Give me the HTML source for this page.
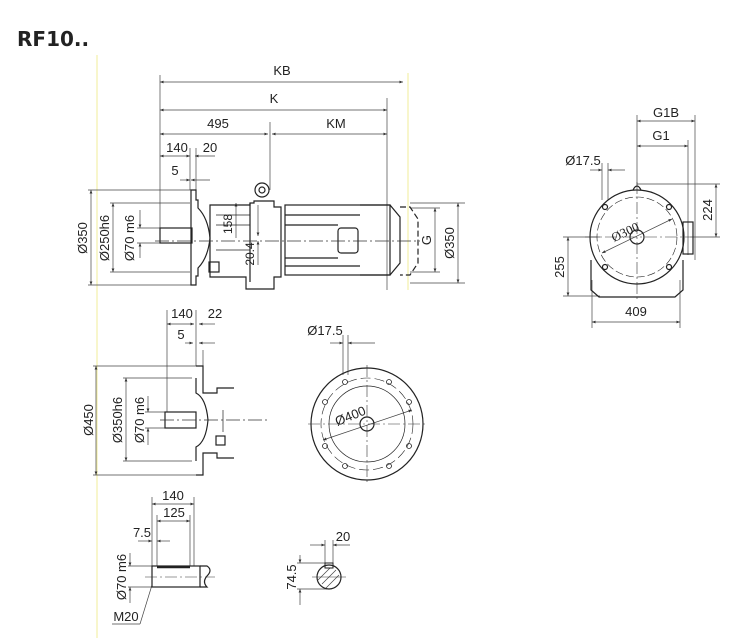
<!DOCTYPE html>
<html><head><meta charset="utf-8"><style>
body{margin:0;background:#fff}
svg{display:block}
text{font-family:"Liberation Sans",sans-serif;fill:#222}
</style></head><body>
<svg width="750" height="638" viewBox="0 0 750 638" xmlns="http://www.w3.org/2000/svg">
<defs>
<marker id="a" viewBox="0 0 10 10" refX="10" refY="5" markerWidth="7" markerHeight="5" orient="auto-start-reverse"><path d="M0,1 L10,5 L0,9z" fill="#333"/></marker>
</defs>
<text x="17" y="46" font-size="20" font-weight="bold" style="font-family:'DejaVu Sans',sans-serif" fill="#111">RF10..</text>
<line x1="97" y1="55" x2="97" y2="638" stroke="#f2ee9a" stroke-width="1"/>
<line x1="408" y1="73" x2="408" y2="290" stroke="#f2ee9a" stroke-width="1"/>

<g stroke="#444" stroke-width="0.7" fill="none">
<!-- top dims -->
<line x1="160" y1="75" x2="160" y2="240"/>
<line x1="387" y1="98" x2="387" y2="290"/>
<line x1="270" y1="122" x2="270" y2="190"/>
<line x1="160" y1="82" x2="403" y2="82" marker-start="url(#a)" marker-end="url(#a)"/>
<line x1="160" y1="110" x2="387" y2="110" marker-start="url(#a)" marker-end="url(#a)"/>
<line x1="160" y1="134" x2="268" y2="134" marker-start="url(#a)" marker-end="url(#a)"/>
<line x1="272" y1="134" x2="387" y2="134" marker-start="url(#a)" marker-end="url(#a)"/>
<line x1="160" y1="156" x2="190" y2="156" marker-start="url(#a)" marker-end="url(#a)"/>
<line x1="195" y1="156" x2="215" y2="156" marker-start="url(#a)"/>
<line x1="190" y1="148" x2="190" y2="190"/><line x1="196" y1="148" x2="196" y2="200"/>
<line x1="180" y1="180" x2="190" y2="180" marker-end="url(#a)"/>
<line x1="191" y1="180" x2="210" y2="180" marker-start="url(#a)"/>
<!-- left vertical dims -->
<line x1="88" y1="190" x2="195" y2="190"/><line x1="88" y1="285" x2="195" y2="285"/>
<line x1="91" y1="190" x2="91" y2="285" marker-start="url(#a)" marker-end="url(#a)"/>
<line x1="110" y1="203" x2="190" y2="203"/><line x1="110" y1="272" x2="190" y2="272"/>
<line x1="113" y1="203" x2="113" y2="272" marker-start="url(#a)" marker-end="url(#a)"/>
<line x1="137" y1="228" x2="160" y2="228"/><line x1="137" y1="243" x2="160" y2="243"/>
<line x1="140" y1="210" x2="140" y2="228" marker-end="url(#a)"/>
<line x1="140" y1="243" x2="140" y2="258" marker-start="url(#a)"/>
<!-- 158 / 20.4 -->
<line x1="236" y1="203" x2="236" y2="238" marker-start="url(#a)"/>
<line x1="258" y1="205" x2="258" y2="236" marker-end="url(#a)"/>
<line x1="258" y1="241" x2="258" y2="265" marker-start="url(#a)"/>
<!-- right dims -->
<line x1="410" y1="203" x2="465" y2="203"/><line x1="410" y1="283" x2="465" y2="283"/>
<line x1="458" y1="203" x2="458" y2="283" marker-start="url(#a)" marker-end="url(#a)"/>
<line x1="410" y1="208" x2="440" y2="208"/><line x1="410" y1="272" x2="440" y2="272"/>
<line x1="435" y1="208" x2="435" y2="272" marker-start="url(#a)" marker-end="url(#a)"/>
</g>
<g font-size="13" text-anchor="middle">
<text x="282" y="75">KB</text><text x="274" y="103">K</text>
<text x="218" y="128">495</text><text x="336" y="128">KM</text>
<text x="177" y="152">140</text><text x="210" y="152">20</text>
<text x="175" y="175">5</text>
<text transform="translate(87,238) rotate(-90)">Ø350</text>
<text transform="translate(109,238) rotate(-90)">Ø250h6</text>
<text transform="translate(134,238) rotate(-90)" fill="#3a6a1a">Ø70 m6</text>
<text transform="translate(232,224) rotate(-90)" font-size="12">158</text>
<text transform="translate(254,254) rotate(-90)" font-size="12">20.4</text>
<text transform="translate(431,240) rotate(-90)">G</text>
<text transform="translate(454,243) rotate(-90)">Ø350</text>
</g>
<!-- top drawing body -->
<g stroke="#222" stroke-width="1.2" fill="none">
<rect x="160" y="228" width="32" height="15"/>
<path d="M191,190 h5 v10 h2 v8 q10,10 12,30 q-2,20 -12,30 v8 h-2 v9 h-5 z"/>
<path d="M210,205 h40 v-2 h4 v-2 h20 v6 h7 v70 h-7 v12 h-28 v-12 h-36 z"/>
<line x1="250" y1="203" x2="250" y2="282"/>
<circle cx="262" cy="190" r="7"/><circle cx="262" cy="190" r="3"/>
<rect x="209" y="262" width="10" height="10"/>
<rect x="285" y="205" width="105" height="70"/>
<path d="M360,205 h30 l10,12 v46 l-10,12 h-30"/>
<path d="M400,207 h10 l8,12 v44 l-8,12 h-10" stroke-dasharray="6,3"/>
<rect x="338" y="228" width="20" height="25" rx="3"/>
<line x1="285" y1="215" x2="360" y2="215"/><line x1="285" y1="225" x2="338" y2="225"/>
<line x1="285" y1="258" x2="338" y2="258"/><line x1="285" y1="266" x2="360" y2="266"/>
<line x1="216" y1="215" x2="250" y2="215" stroke-width="0.7"/><line x1="216" y1="225" x2="250" y2="225" stroke-width="0.7"/>
<line x1="216" y1="250" x2="250" y2="250" stroke-width="0.7"/>
</g>
<line x1="155" y1="241" x2="420" y2="241" stroke="#333" stroke-width="0.7" stroke-dasharray="14,3,2,3"/>

<!-- right view -->
<g stroke="#444" stroke-width="0.7" fill="none">
<line x1="637" y1="115" x2="637" y2="185"/>
<line x1="695" y1="115" x2="695" y2="260"/><line x1="688" y1="140" x2="688" y2="255"/>
<line x1="637" y1="121" x2="695" y2="121" marker-start="url(#a)" marker-end="url(#a)"/>
<line x1="637" y1="146" x2="688" y2="146" marker-start="url(#a)" marker-end="url(#a)"/>
<line x1="602" y1="163" x2="602" y2="200"/><line x1="608" y1="163" x2="608" y2="200"/>
<line x1="590" y1="170" x2="602" y2="170" marker-end="url(#a)"/>
<line x1="608" y1="170" x2="625" y2="170" marker-start="url(#a)"/>
<line x1="637" y1="184" x2="720" y2="184"/><line x1="690" y1="237" x2="720" y2="237"/>
<line x1="716" y1="184" x2="716" y2="237" marker-start="url(#a)" marker-end="url(#a)"/>
<line x1="563" y1="237" x2="600" y2="237"/><line x1="563" y1="296" x2="600" y2="296"/>
<line x1="568" y1="237" x2="568" y2="296" marker-start="url(#a)" marker-end="url(#a)"/>
<line x1="592" y1="280" x2="592" y2="328"/><line x1="680" y1="280" x2="680" y2="328"/>
<line x1="592" y1="322" x2="680" y2="322" marker-start="url(#a)" marker-end="url(#a)"/>
<line x1="602" y1="253" x2="672" y2="219" marker-start="url(#a)" marker-end="url(#a)"/>
</g>
<g stroke="#222" stroke-width="1.2" fill="none">
<circle cx="637" cy="237" r="47"/>
<circle cx="637" cy="237" r="40" stroke-width="0.6" stroke-dasharray="8,3"/>
<circle cx="637" cy="237" r="7"/>
<path d="M591,260 v30 l8,7 h76 l8,-7 v-30"/>
<rect x="683" y="222" width="10" height="32"/>
<path d="M633,190 q4,-8 8,0"/>
<circle cx="605" cy="207" r="2.5"/><circle cx="669" cy="207" r="2.5"/>
<circle cx="605" cy="267" r="2.5"/><circle cx="669" cy="267" r="2.5"/>
</g>
<g stroke="#333" stroke-width="0.6" stroke-dasharray="12,3,2,3"><line x1="637" y1="182" x2="637" y2="300"/><line x1="585" y1="237" x2="690" y2="237"/></g>
<g font-size="13" text-anchor="middle">
<text x="666" y="117">G1B</text><text x="661" y="140">G1</text>
<text x="583" y="165">Ø17.5</text>
<text transform="translate(627,236) rotate(-25)" style="font-family:'Liberation Serif',serif" font-size="13">Ø300</text>
<text transform="translate(712,210) rotate(-90)">224</text>
<text transform="translate(564,267) rotate(-90)">255</text>
<text x="636" y="316">409</text>
</g>

<!-- middle left view -->
<g stroke="#444" stroke-width="0.7" fill="none">
<line x1="167" y1="310" x2="167" y2="412"/><line x1="196" y1="310" x2="196" y2="366"/><line x1="203" y1="350" x2="203" y2="366"/>
<line x1="167" y1="324" x2="194" y2="324" marker-start="url(#a)" marker-end="url(#a)"/>
<line x1="199" y1="324" x2="215" y2="324" marker-start="url(#a)"/>
<line x1="185" y1="343" x2="193" y2="343" marker-end="url(#a)"/>
<line x1="199" y1="343" x2="215" y2="343" marker-start="url(#a)"/>
<line x1="93" y1="366" x2="200" y2="366"/><line x1="93" y1="475" x2="200" y2="475"/>
<line x1="96" y1="366" x2="96" y2="475" marker-start="url(#a)" marker-end="url(#a)"/>
<line x1="123" y1="378" x2="192" y2="378"/><line x1="123" y1="461" x2="192" y2="461"/>
<line x1="126" y1="378" x2="126" y2="461" marker-start="url(#a)" marker-end="url(#a)"/>
<line x1="145" y1="412" x2="165" y2="412"/><line x1="145" y1="428" x2="165" y2="428"/>
<line x1="148" y1="396" x2="148" y2="412" marker-end="url(#a)"/>
<line x1="148" y1="428" x2="148" y2="445" marker-start="url(#a)"/>
</g>
<g stroke="#222" stroke-width="1.2" fill="none">
<rect x="165" y="412" width="31" height="16"/>
<path d="M196,366 h7 v27 h14 v-5 h17 M196,475 h7 v-22 h14 v5 h17"/>
<path d="M196,378 v15 q10,5 12,27 q-2,22 -12,27 v14"/>
<rect x="216" y="436" width="9" height="9"/>
<line x1="223" y1="410" x2="223" y2="432" stroke-width="0.7"/>
</g>
<line x1="160" y1="420" x2="270" y2="420" stroke="#333" stroke-width="0.7" stroke-dasharray="14,3,2,3"/>
<g font-size="13" text-anchor="middle">
<text x="182" y="318">140</text><text x="215" y="318">22</text><text x="181" y="339">5</text>
<text transform="translate(93,420) rotate(-90)">Ø450</text>
<text transform="translate(122,420) rotate(-90)">Ø350h6</text>
<text transform="translate(144,420) rotate(-90)">Ø70 m6</text>
</g>

<!-- flange circle -->
<g stroke="#444" stroke-width="0.7" fill="none">
<line x1="343" y1="335" x2="343" y2="375"/><line x1="348" y1="335" x2="348" y2="375"/>
<line x1="330" y1="343" x2="343" y2="343" marker-end="url(#a)"/>
<line x1="348" y1="343" x2="375" y2="343" marker-start="url(#a)"/>
<line x1="323" y1="440" x2="412" y2="410" marker-start="url(#a)" marker-end="url(#a)"/>
</g>
<g stroke="#222" stroke-width="1.2" fill="none">
<circle cx="367" cy="424" r="56"/>
<circle cx="367" cy="424" r="46" stroke-width="0.6" stroke-dasharray="10,4"/>
<circle cx="367" cy="424" r="38" stroke-width="0.7"/>
<circle cx="367" cy="424" r="7"/>
<g stroke-width="0.8">
<circle cx="345" cy="382" r="2.5"/><circle cx="389" cy="382" r="2.5"/>
<circle cx="325" cy="402" r="2.5"/><circle cx="409" cy="402" r="2.5"/>
<circle cx="325" cy="446" r="2.5"/><circle cx="409" cy="446" r="2.5"/>
<circle cx="345" cy="466" r="2.5"/><circle cx="389" cy="466" r="2.5"/>
</g>
</g>
<g stroke="#333" stroke-width="0.6" stroke-dasharray="12,3,2,3"><line x1="367" y1="365" x2="367" y2="483"/><line x1="308" y1="424" x2="425" y2="424"/></g>
<text x="325" y="335" font-size="13" text-anchor="middle">Ø17.5</text>
<text transform="translate(352,420) rotate(-22)" font-size="13" text-anchor="middle">Ø400</text>

<!-- shaft detail -->
<g stroke="#444" stroke-width="0.7" fill="none">
<line x1="152" y1="497" x2="152" y2="566"/><line x1="194" y1="497" x2="194" y2="566"/>
<line x1="157" y1="515" x2="157" y2="566"/><line x1="190" y1="515" x2="190" y2="566"/>
<line x1="152" y1="504" x2="194" y2="504" marker-start="url(#a)" marker-end="url(#a)"/>
<line x1="157" y1="521" x2="190" y2="521" marker-start="url(#a)" marker-end="url(#a)"/>
<line x1="138" y1="541" x2="152" y2="541" marker-end="url(#a)"/>
<line x1="157" y1="541" x2="170" y2="541" marker-start="url(#a)"/>
<line x1="128" y1="566" x2="152" y2="566"/><line x1="128" y1="587" x2="152" y2="587"/>
<line x1="130" y1="553" x2="130" y2="566" marker-end="url(#a)"/>
<line x1="130" y1="587" x2="130" y2="603" marker-start="url(#a)"/>
<line x1="112" y1="624" x2="140" y2="624"/><line x1="140" y1="624" x2="152" y2="585"/>
</g>
<g stroke="#222" stroke-width="1.2" fill="none">
<rect x="152" y="566" width="48" height="21"/>
<path d="M200,566 h7 q6,4 0,10 q-5,6 0,11 h-7"/>
<line x1="157" y1="567" x2="190" y2="567" stroke-width="2.5"/>
</g>
<line x1="145" y1="577" x2="215" y2="577" stroke="#333" stroke-width="0.6" stroke-dasharray="12,3,2,3"/>
<g font-size="13" text-anchor="middle">
<text x="173" y="500">140</text><text x="174" y="517">125</text><text x="142" y="537">7.5</text>
<text transform="translate(126,577) rotate(-90)">Ø70 m6</text>
<text x="126" y="621">M20</text>
</g>

<!-- key section -->
<g stroke="#444" stroke-width="0.7" fill="none">
<line x1="325" y1="540" x2="325" y2="568"/><line x1="333" y1="540" x2="333" y2="568"/>
<line x1="310" y1="545" x2="325" y2="545" marker-end="url(#a)"/>
<line x1="333" y1="545" x2="350" y2="545" marker-start="url(#a)"/>
<line x1="297" y1="563" x2="330" y2="563"/><line x1="297" y1="589" x2="330" y2="589"/>
<line x1="300" y1="555" x2="300" y2="563" marker-end="url(#a)"/>
<line x1="300" y1="589" x2="300" y2="605" marker-start="url(#a)"/>
<line x1="322" y1="584" x2="336" y2="570"/><line x1="318" y1="580" x2="330" y2="568"/><line x1="326" y1="588" x2="339" y2="575"/>
</g>
<circle cx="329" cy="577" r="12" stroke="#222" stroke-width="1.2" fill="none"/>
<rect x="325" y="563" width="8" height="5" stroke="#222" stroke-width="1" fill="none"/>
<line x1="312" y1="577" x2="346" y2="577" stroke="#333" stroke-width="0.6"/>
<g font-size="13" text-anchor="middle">
<text x="343" y="541">20</text>
<text transform="translate(296,577) rotate(-90)">74.5</text>
</g>
</svg>
</body></html>
